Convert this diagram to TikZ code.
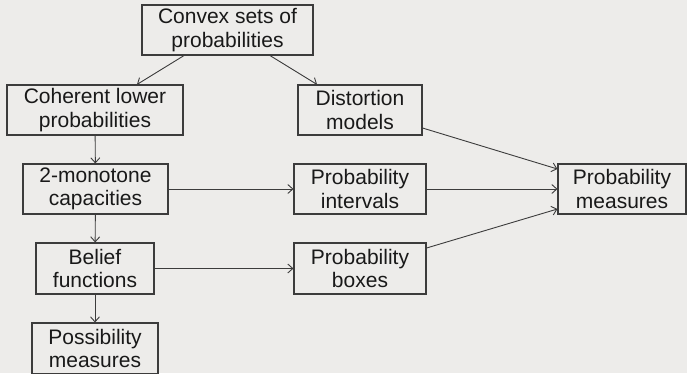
\documentclass[tikz,border=0pt]{standalone}
\usepackage{fontspec}
\setmainfont{Liberation Sans}
\usetikzlibrary{arrows.meta}
\definecolor{bg}{RGB}{237,236,234}
\definecolor{ln}{RGB}{60,60,60}
\begin{document}
\begin{tikzpicture}[x=1pt,y=-1pt,
  box/.style={draw=ln,line width=1.1pt,rectangle,inner sep=0pt,align=center,
    font=\fontsize{21}{23.5}\selectfont,text=black!90},
  arr/.style={draw=ln,line width=0.9pt,-{Straight Barb[length=5pt,width=9pt]}}]
\fill[bg] (0,0) rectangle (687,373);
\useasboundingbox (0,0) rectangle (687,373);
\clip (0,0) rectangle (687,373);
\node[box,minimum width=171pt,minimum height=50pt] (convex) at (227.5,30) {Convex sets of\\probabilities};
\node[box,minimum width=176pt,minimum height=50pt] (coherent) at (95,110) {Coherent lower\\probabilities};
\node[box,minimum width=124pt,minimum height=50pt] (distortion) at (360,110) {Distortion\\models};
\node[box,minimum width=145pt,minimum height=50pt] (mono) at (95.5,189) {2-monotone\\capacities};
\node[box,minimum width=132pt,minimum height=50pt] (intervals) at (360,189) {Probability\\intervals};
\node[box,minimum width=128pt,minimum height=50pt] (measures) at (622,189) {Probability\\measures};
\node[box,minimum width=118pt,minimum height=51pt] (belief) at (95,268.5) {Belief\\functions};
\node[box,minimum width=132pt,minimum height=51pt] (boxes) at (360,268.5) {Probability\\boxes};
\node[box,minimum width=126pt,minimum height=51pt] (poss) at (95,348.5) {Possibility\\measures};
\draw[arr] ([xshift=-43.5pt]convex.south) -- ([xshift=42pt]coherent.north);
\draw[arr] ([xshift=42.5pt]convex.south) -- ([xshift=-43pt]distortion.north);
\draw[arr] (coherent) -- (mono);
\draw[arr] (mono) -- (belief);
\draw[arr] (belief) -- (poss);
\draw[arr] (mono) -- (intervals);
\draw[arr] (belief) -- (boxes);
\draw[arr] (intervals) -- (measures);
\draw[arr] ([yshift=-18pt]distortion.east) -- ([yshift=20pt]measures.west);
\draw[arr] ([yshift=20.5pt]boxes.east) -- ([yshift=-20pt]measures.west);
\end{tikzpicture}
\end{document}
